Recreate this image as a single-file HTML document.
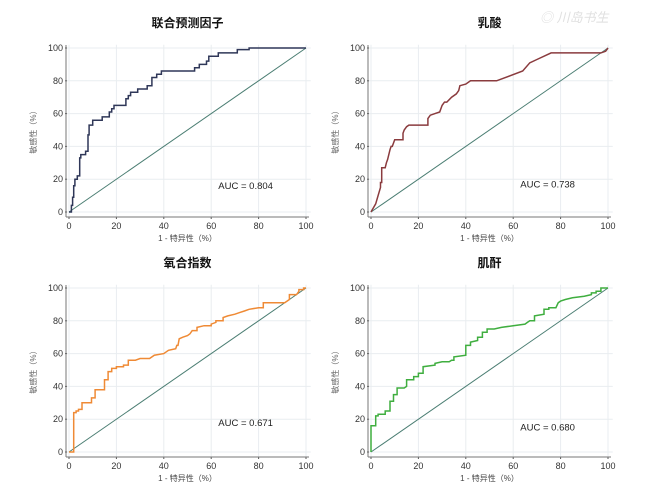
<!DOCTYPE html>
<html><head><meta charset="utf-8"><style>
body{margin:0;background:#fff;width:650px;height:491px;overflow:hidden;font-family:"Liberation Sans","Noto Sans CJK SC",sans-serif}
svg text{font-family:"Liberation Sans","Noto Sans CJK SC",sans-serif}
</style></head><body>
<svg id="c" width="650" height="491"></svg>
<script>
const ticks=[0,20,40,60,80,100];
const tickLabels=["0","20","40","60","80","100"];
const titles=["联合预测因子","乳酸","氧合指数","肌酐"];
const aucLabels=["AUC = 0.804","AUC = 0.738","AUC = 0.671","AUC = 0.680"];
const aucPosX=[63,63,63,63];
const aucPosY=[14,15,16,13];
const p1x=[0,1,1,1.5,1.5,2,2,2.5,2.5,3.5,3.5,4.5,4.5,5,5,7,7,8,8,8.5,8.5,10,10,14,14,17,17,18,18,19,19,24,24,25,25,26,26,29,29,33,33,35,35,37,37,39,39,53,53,55,55,58,58,59,59,63,63,71,71,76,76,100];
const p1y=[0,0,4,4,9,9,16,16,20,20,22,22,33,33,35,35,37,37,47,47,53,53,56,56,58,58,61,61,63,63,65,65,69,69,71,71,73,73,75,75,77,77,82,82,84,84,86,86,88,88,90,90,92,92,95,95,97,97,99,99,100,100];
const p2x=[0,2,3,4,4,4.5,4.5,6,6.5,7,8,8.5,9,10,13.5,13.5,14,15,16,24,24,25,27,29,30,31,32,34,36,37,37.5,40,42,53,64,67,70,76,97,99,100];
const p2y=[0,5,10,15,18,18,27,27,30,32,38,40,40,44,44,48,50,52,53,53,57,59,60,61,65,67,67,70,72,74,77,78,80,80,86,91,93,97,97,98,100];
const p3x=[0,2,2,3,3,4,4,5.5,5.5,9.5,9.5,11,11,15,15,16.5,16.5,18,18,20,20,23,23,25,25,28,30,34,36,40,42,45,45.5,46,46.5,48,50,51,52,54,54,57,60,60,62,62,65,65,67,70,72,74,76,80,82,82,91,93,93,96,97,97,99,99,100];
const p3y=[0,0,24,24,25,25,26,26,30,30,33,33,38,38,44,44,49,49,51,51,52,52,53,53,56,56,57,57,59,60,62,63,65,65,69,70,71,72,74,74,76,77,77,78,79,80,80,82,83,84,85,86,87,88,88,91,91,93,96,96,98,99,99,100,100];
const p4x=[0,0,2,2,3,3,6,6,8,8,9.5,9.5,11,11,14,15,15,18,18,20,20,22,22,27,27,30,33,34,35,35,40,40,42,42,45,45,47,47,49,49,52,55,60,65,66,67,69,69,73,73,75,75,78,79,80,82,85,90,93,93,95,95,97,97,100];
const p4y=[0,16,16,22,22,23,23,25,25,31,31,35,35,39,39,40,44,44,46,46,48,48,52,53,54,55,55,56,56,58,59,65,65,67,68,70,70,73,73,75,75,76,77,78,79,80,80,83,84,87,87,88,88,91,92,93,94,95,96,97,97,98,98,100,100];
const seriesX=[p1x,p2x,p3x,p4x];
const seriesY=[p1y,p2y,p3y,p4y];
const colors=["#2f3758","#8a3b3e","#ef8a35","#3fae3f"];
const panels=[{x0:69,x1:306,y0:212,y1:48},{x0:371,x1:608,y0:212,y1:48},{x0:69,x1:306,y0:452,y1:288},{x0:371,x1:608,y0:452,y1:288}];
const NS="http://www.w3.org/2000/svg";
const svg=document.getElementById('c');
function mk(t,a,p){const e=document.createElementNS(NS,t);for(const k in a)e.setAttribute(k,a[k]);(p||svg).appendChild(e);return e;}
panels.forEach((P,i)=>{
  const g=mk('g',{});
  
  
  const sx=v=>P.x0+(P.x1-P.x0)*v/100, sy=v=>P.y0+(P.y1-P.y0)*v/100;
  ticks.forEach((t,j)=>{
    mk('line',{x1:sx(t),x2:sx(t),y1:sy(-3),y2:sy(102),stroke:'#e9edf0','stroke-width':1},g);
    mk('line',{x1:sx(-1.5),x2:sx(102),y1:sy(t),y2:sy(t),stroke:'#e9edf0','stroke-width':1},g);
    const xl=mk('text',{x:sx(t),y:P.y0+17,'font-size':9,fill:'#333','text-anchor':'middle'},g);xl.textContent=tickLabels[j];
    
    
    const yl=mk('text',{x:P.x0-6,y:sy(t)+3,'font-size':9,fill:'#333','text-anchor':'end'},g);yl.textContent=tickLabels[j];
    
    
    mk('line',{x1:sx(t),x2:sx(t),y1:P.y0+5,y2:P.y0+7,stroke:'#555'},g);
    mk('line',{x1:P.x0-4,x2:P.x0-2,y1:sy(t),y2:sy(t),stroke:'#555'},g);
  });
  const xa=mk('line',{x1:P.x0-3,x2:P.x1+3,y1:P.y0+5,y2:P.y0+5,stroke:'#777','stroke-width':1},g);
  
  
  const ya=mk('line',{x1:P.x0-3,x2:P.x0-3,y1:P.y1-3,y2:P.y0+5,stroke:'#777','stroke-width':1},g);
  
  
  const d=mk('line',{x1:sx(0),y1:sy(0),x2:sx(100),y2:sy(100),stroke:'#4a7d72','stroke-width':1},g);
  
  
  const xs=seriesX[i],ys=seriesY[i];
  const pts=xs.map((v,k)=>sx(v).toFixed(1)+','+sy(ys[k]).toFixed(1)).join(' ');
  const pl=mk('polyline',{points:pts,fill:'none',stroke:colors[i],'stroke-width':1.5},g);
  
  
  const tt=mk('text',{x:(P.x0+P.x1)/2,y:P.y1-21,'font-size':12,'font-weight':'bold',fill:'#111','text-anchor':'middle'},g);tt.textContent=titles[i];
  
  
  const at=mk('text',{x:sx(aucPosX[i]),y:sy(aucPosY[i]),'font-size':9.5,fill:'#222'},g);at.textContent=aucLabels[i];
  
  
  const xt=mk('text',{x:(P.x0+P.x1)/2,y:P.y0+29,'font-size':8,fill:'#444','text-anchor':'middle'},g);xt.textContent='1 - 特异性（%）';
  
  
  const cy=(P.y0+P.y1)/2, cx=P.x0-33;
  const yt=mk('text',{x:cx,y:cy,'font-size':8,fill:'#666','text-anchor':'middle',transform:`rotate(-90 ${cx} ${cy})`},g);yt.textContent='敏感性（%）';
  
  
});
const wm=mk('text',{x:540,y:22,'font-size':13,fill:'#e0e0e0','font-style':'italic'});wm.textContent='◎ 川岛书生';


</script>
</body></html>
